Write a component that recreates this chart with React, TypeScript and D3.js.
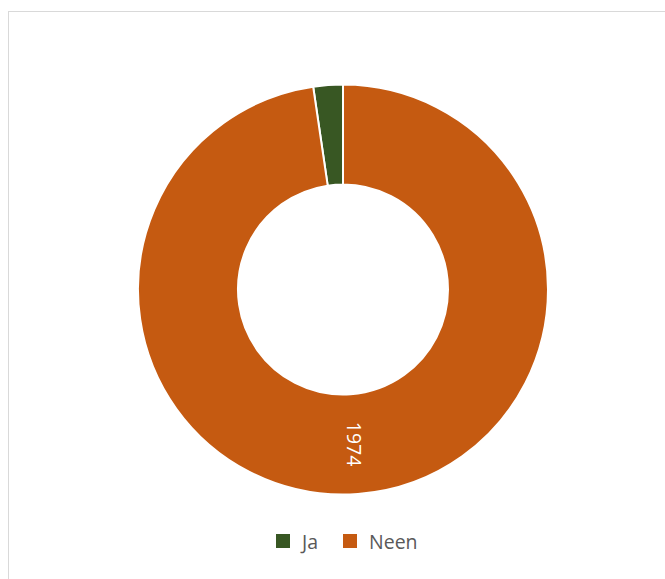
import React from "react";
import * as d3 from "d3";

const categories = ["Ja", "Neen"];
const values = [47, 1974];
const colors = ["#385723", "#C55A11"];

export default function App() {
  const W = 665, H = 579;
  const cx = 343, cy = 289.5;
  const outerR = 205, innerR = 105;
  const total = d3.sum(values);
  const start = -2 * Math.PI * values[0] / total;
  const pie = d3.pie<number>().sort(null).value(d => d).startAngle(start).endAngle(start + 2 * Math.PI);
  const arcs = pie(values);
  const arc = d3.arc<d3.PieArcDatum<number>>().innerRadius(innerR).outerRadius(outerR);
  const labelArc = d3.arc<d3.PieArcDatum<number>>().innerRadius(155).outerRadius(155);
  const neen = arcs[1];
  const [lx, ly] = labelArc.centroid(neen);

  const legendX = [276, 343];
  return (
    <svg width={W} height={H} style={{ position: "absolute", left: 0, top: 0, fontFamily: "'Open Sans', sans-serif" }}>
      <rect x={0} y={0} width={W} height={H} fill="#fff" />
      <rect x={8.5} y={11.5} width={720} height={620} fill="#fff" stroke="#d9d9d9" strokeWidth={1} />
      <g transform={`translate(${cx},${cy})`}>
        {arcs.map((a, i) => (
          <path key={categories[i]} d={arc(a) || ""} fill={colors[i]} stroke="#fff" strokeWidth={2} />
        ))}
        <text
          transform={`translate(${lx},${ly}) rotate(90)`}
          textAnchor="middle"
          dominantBaseline="central"
          fill="#fff"
          fontSize={19.5}
        >
          {values[1]}
        </text>
      </g>
      {categories.map((c, i) => (
        <g key={c} transform={`translate(${legendX[i]},534)`}>
          <rect x={0} y={0} width={14} height={14} fill={colors[i]} />
          <text x={26} y={7} dominantBaseline="central" fontSize={19.5} fill="#595959">{c}</text>
        </g>
      ))}
    </svg>
  );
}
